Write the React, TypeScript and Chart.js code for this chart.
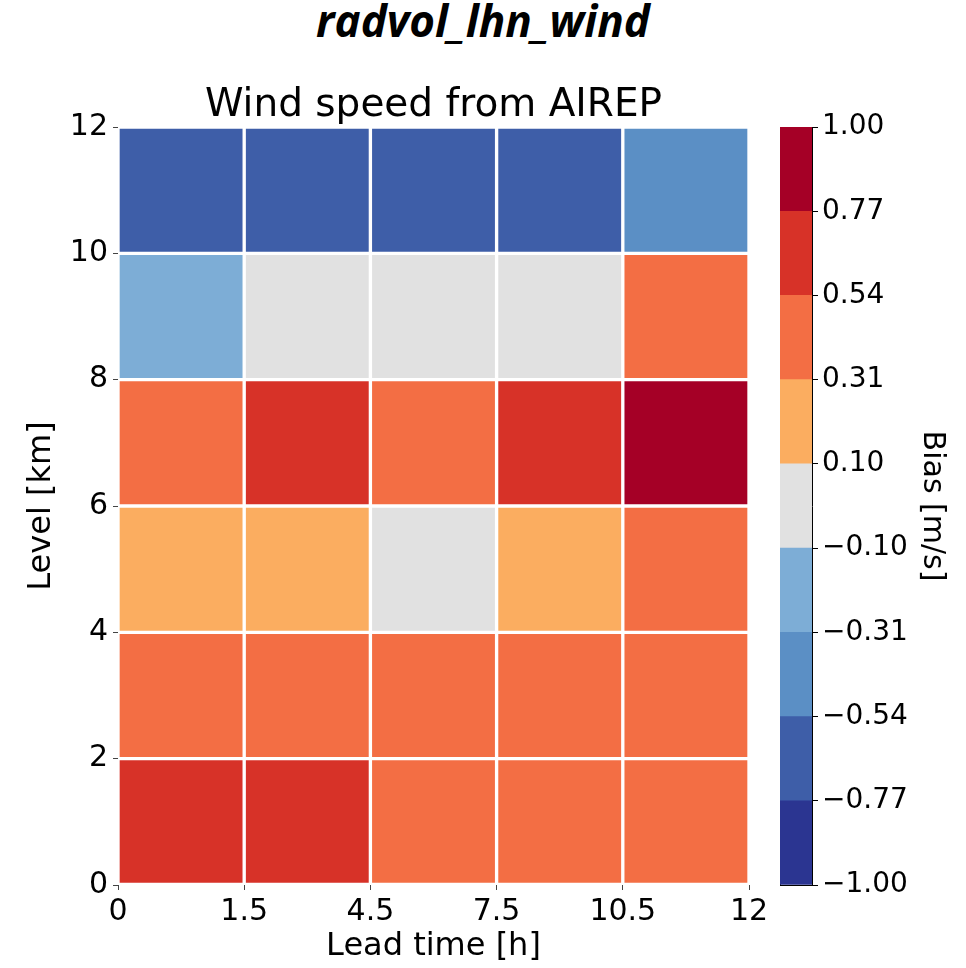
import React, { useEffect, useRef } from "react";
import { Chart, registerables } from "chart.js";

Chart.register(...registerables);

// Level bands (km) and lead-time boundaries (h)
const levelEdges = [0, 2, 4, 6, 8, 10, 12];
const leadTickLabels = ["0", "1.5", "4.5", "7.5", "10.5", "12"];
const levelTicks = [0, 2, 4, 6, 8, 10, 12];

// Wind speed bias [m/s], one row per level band (bottom to top), one value per lead-time window
const bias0to2 = [0.66, 0.62, 0.45, 0.43, 0.47];
const bias2to4 = [0.42, 0.44, 0.4, 0.41, 0.43];
const bias4to6 = [0.22, 0.25, 0.05, 0.24, 0.38];
const bias6to8 = [0.45, 0.63, 0.4, 0.68, 0.85];
const bias8to10 = [-0.22, 0.02, -0.03, 0.04, 0.4];
const bias10to12 = [-0.63, -0.66, -0.6, -0.62, -0.42];
const biasRows = [bias0to2, bias2to4, bias4to6, bias6to8, bias8to10, bias10to12];

// Discrete colour scale
const colorBounds = [-1, -0.77, -0.54, -0.31, -0.1, 0.1, 0.31, 0.54, 0.77, 1.0];
const colorbarTickLabels = ["\u22121.00", "\u22120.77", "\u22120.54", "\u22120.31", "\u22120.10", "0.10", "0.31", "0.54", "0.77", "1.00"];
const binColors = ["#2b3591", "#3e5ea8", "#5b8fc5", "#7dadd6", "#e1e1e1", "#fbad60", "#f36e44", "#d73228", "#a50026"];

const FONT = "'DejaVu Sans', 'Liberation Sans', sans-serif";

function colorFor(v: number): string {
  for (let i = 0; i < binColors.length; i++) {
    if (v < colorBounds[i + 1]) return binColors[i];
  }
  return binColors[binColors.length - 1];
}

function HeatmapPanel() {
  const ref = useRef<HTMLCanvasElement>(null);
  useEffect(() => {
    const cells: { x: number; y: [number, number]; v: number }[] = [];
    biasRows.forEach((row, r) => {
      row.forEach((v, c) => {
        cells.push({ x: c + 0.5, y: [levelEdges[r], levelEdges[r + 1]], v });
      });
    });
    const chart = new Chart(ref.current!, {
      type: "bar",
      data: {
        datasets: [
          {
            data: cells as any,
            backgroundColor: cells.map((d) => colorFor(d.v)),
            borderColor: "#ffffff",
            borderWidth: 2,
            borderSkipped: false,
            barPercentage: 1,
            categoryPercentage: 1,
          },
        ],
      },
      options: {
        responsive: false,
        animation: false,
        layout: { padding: { left: 0, right: 27, top: 0, bottom: 0 } },
        plugins: {
          legend: { display: false },
          tooltip: { enabled: false },
          title: {
            display: true,
            fullSize: false,
            text: "Wind speed from AIREP",
            color: "#000",
            font: { family: FONT, size: 39, weight: "normal", lineHeight: 1 },
            padding: { top: 86, bottom: 2 },
          },
        },
        scales: {
          x: {
            type: "linear",
            offset: false,
            min: 0,
            max: leadTickLabels.length - 1,
            afterBuildTicks: (s: any) => {
              s.ticks = leadTickLabels.map((_, i) => ({ value: i }));
            },
            ticks: {
              color: "#000",
              font: { family: FONT, size: 30 },
              padding: 4,
              maxRotation: 0,
              autoSkip: false,
              callback: (v: any) => leadTickLabels[Math.round(Number(v))],
            },
            grid: { offset: false, drawOnChartArea: false, drawTicks: true, tickLength: 5, color: "#444" },
            border: { display: false },
            title: {
              display: true,
              text: "Lead time [h]",
              color: "#000",
              font: { family: FONT, size: 32, lineHeight: 1 },
              padding: { top: 0, bottom: 5 },
            },
            afterFit: (s: any) => {
              s.height = 83;
            },
          },
          y: {
            type: "linear",
            min: 0,
            max: 12,
            afterBuildTicks: (s: any) => {
              s.ticks = levelTicks.map((value) => ({ value }));
            },
            ticks: {
              color: "#000",
              font: { family: FONT, size: 30 },
              padding: 5,
              callback: (v: any) => String(v),
            },
            grid: { drawOnChartArea: false, drawTicks: true, tickLength: 5, color: "#444" },
            border: { display: false },
            title: {
              display: true,
              text: "Level [km]",
              color: "#000",
              font: { family: FONT, size: 32, lineHeight: 1 },
              padding: { top: 26, bottom: 0 },
            },
            afterFit: (s: any) => {
              s.width = 118;
            },
          },
        },
      },
    });
    return () => chart.destroy();
  }, []);
  return (
    <canvas
      ref={ref}
      width={776}
      height={968}
      style={{ position: "absolute", left: 0, top: 0, width: 776, height: 968 }}
    />
  );
}

function ColorbarPanel() {
  const ref = useRef<HTMLCanvasElement>(null);
  useEffect(() => {
    const chart = new Chart(ref.current!, {
      type: "bar",
      data: {
        labels: [""],
        datasets: binColors.map((c) => ({
          data: [1],
          xAxisID: "x",
          yAxisID: "y",
          backgroundColor: c,
          borderWidth: 0,
          barPercentage: 1,
          categoryPercentage: 1,
        })),
      },
      options: {
        responsive: false,
        animation: false,
        layout: { padding: { left: 10, right: 0, top: 127, bottom: 83 } },
        plugins: { legend: { display: false }, tooltip: { enabled: false } },
        scales: {
          x: {
            type: "category",
            stacked: true,
            position: "bottom",
            ticks: { display: false },
            grid: { display: false },
            border: { display: true, color: "#000", width: 1 },
            afterFit: (s: any) => {
              s.height = 0;
            },
          },
          y: {
            type: "linear",
            position: "right",
            stacked: true,
            min: 0,
            max: colorBounds.length - 1,
            afterBuildTicks: (s: any) => {
              s.ticks = colorbarTickLabels.map((_, i) => ({ value: i }));
            },
            ticks: {
              color: "#000",
              font: { family: FONT, size: 28 },
              padding: 4,
              autoSkip: false,
              callback: (v: any) => colorbarTickLabels[Math.round(Number(v))],
            },
            grid: { drawOnChartArea: false, drawTicks: true, tickLength: 6, color: "#000" },
            border: { display: true, color: "#000", width: 1 },
            title: {
              display: true,
              text: "Bias [m/s]",
              color: "#000",
              font: { family: FONT, size: 30, lineHeight: 1 },
              padding: { top: 19, bottom: 0 },
            },
            afterFit: (s: any) => {
              s.width = 154;
            },
          },
          xTop: {
            type: "category",
            position: "top",
            labels: [""],
            ticks: { display: false },
            grid: { display: false },
            border: { display: true, color: "#000", width: 1 },
            afterFit: (s: any) => {
              s.height = 0;
            },
          },
          yLeft: {
            type: "linear",
            position: "left",
            min: 0,
            max: 9,
            ticks: { display: false },
            grid: { display: false },
            border: { display: true, color: "#000", width: 1 },
            afterFit: (s: any) => {
              s.width = 0;
            },
          },
        },
      },
    });
    return () => chart.destroy();
  }, []);
  return (
    <canvas
      ref={ref}
      width={196}
      height={968}
      style={{ position: "absolute", left: 770, top: 0, width: 196, height: 968 }}
    />
  );
}

export default function App() {
  return (
    <div style={{ position: "absolute", left: 0, top: 0, width: 966, height: 968, background: "#fff" }}>
      <div
        style={{
          position: "absolute",
          left: 0,
          top: -5,
          width: 966,
          textAlign: "center",
          fontFamily: "'Open Sans', 'DejaVu Sans', sans-serif",
          fontWeight: 700,
          fontStyle: "italic",
          fontSize: 44,
          lineHeight: "50px",
          color: "#000",
        }}
      >
        radvol_lhn_wind
      </div>
      <HeatmapPanel />
      <ColorbarPanel />
    </div>
  );
}
